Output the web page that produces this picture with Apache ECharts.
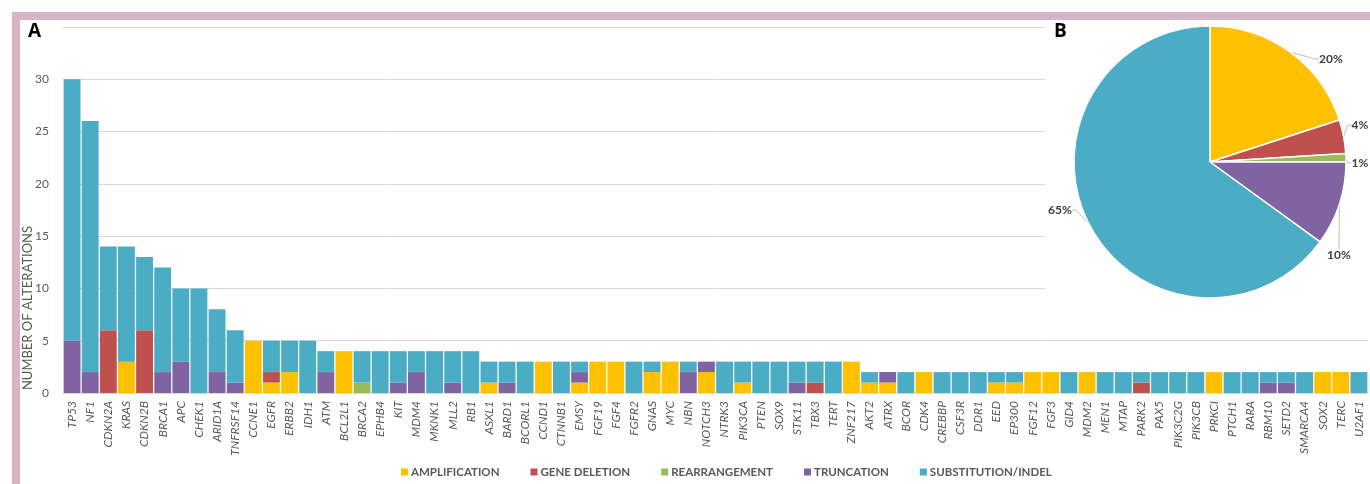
<!DOCTYPE html>
<html>
<head>
<meta charset="utf-8">
<script src="https://cdn.jsdelivr.net/npm/echarts@6/dist/echarts.min.js"></script>
<style>
html,body{margin:0;padding:0;background:#fff;}
#c{width:1370px;height:484px;}
</style>
</head>
<body>
<div id="c"></div>
<script>
const categories = ['TP53','NF1','CDKN2A','KRAS','CDKN2B','BRCA1','APC','CHEK1','ARID1A','TNFRSF14','CCNE1','EGFR','ERBB2','IDH1','ATM','BCL2L1','BRCA2','EPHB4','KIT','MDM4','MKNK1','MLL2','RB1','ASXL1','BARD1','BCORL1','CCND1','CTNNB1','EMSY','FGF19','FGF4','FGFR2','GNAS','MYC','NBN','NOTCH3','NTRK3','PIK3CA','PTEN','SOX9','STK11','TBX3','TERT','ZNF217','AKT2','ATRX','BCOR','CDK4','CREBBP','CSF3R','DDR1','EED','EP300','FGF12','FGF3','GID4','MDM2','MEN1','MTAP','PARK2','PAX5','PIK3C2G','PIK3CB','PRKCI','PTCH1','RARA','RBM10','SETD2','SMARCA4','SOX2','TERC','U2AF1'];

const amplification = [0,0,0,3,0,0,0,0,0,0, 5,1,2,0,0,4,0,0,0,0, 0,0,0,1,0,0,3,0,1,3, 3,0,2,3,0,2,0,1,0,0, 0,0,0,3,1,1,0,2,0,0, 0,1,1,2,2,0,2,0,0,0, 0,0,0,2,0,0,0,0,0,2,2,0];
const geneDeletion = [0,0,6,0,6,0,0,0,0,0, 0,1,0,0,0,0,0,0,0,0, 0,0,0,0,0,0,0,0,0,0, 0,0,0,0,0,0,0,0,0,0, 0,1,0,0,0,0,0,0,0,0, 0,0,0,0,0,0,0,0,0,1, 0,0,0,0,0,0,0,0,0,0,0,0];
const rearrangement = [0,0,0,0,0,0,0,0,0,0, 0,0,0,0,0,0,1,0,0,0, 0,0,0,0,0,0,0,0,0,0, 0,0,0,0,0,0,0,0,0,0, 0,0,0,0,0,0,0,0,0,0, 0,0,0,0,0,0,0,0,0,0, 0,0,0,0,0,0,0,0,0,0,0,0];
const truncation = [5,2,0,0,0,2,3,0,2,1, 0,0,0,0,2,0,0,0,1,2, 0,1,0,0,1,0,0,0,1,0, 0,0,0,0,2,1,0,0,0,0, 1,0,0,0,0,1,0,0,0,0, 0,0,0,0,0,0,0,0,0,0, 0,0,0,0,0,0,1,1,0,0,0,0];
const substitution = [25,24,8,11,7,10,7,10,6,5, 0,3,3,5,2,0,3,4,3,2, 4,3,4,2,2,3,0,3,1,0, 0,3,1,0,1,0,3,2,3,3, 2,2,3,0,1,0,2,0,2,2, 2,1,1,0,0,2,0,2,2,1, 2,2,2,0,2,2,1,1,2,0,0,2];

const seriesNames = ['AMPLIFICATION','GENE DELETION','REARRANGEMENT','TRUNCATION','SUBSTITUTION/INDEL'];
const colors = ['#FFC000','#C0504D','#9BBB59','#8064A2','#4BACC6'];
const piePercents = [20,4,1,10,65];
const yTicks = [0,5,10,15,20,25,30];

const font = 'Lato, "Open Sans", sans-serif';
const grey = '#595959';

// pie label placement (layout only)
const pieLabelPos = [[1331,59],[1360,125],[1360,163],[1339,255],[1060,210]];

const chart = echarts.init(document.getElementById('c'), null, {renderer:'canvas'});
const barData = [amplification, geneDeletion, rearrangement, truncation, substitution];

const barSeries = seriesNames.map((n,i)=>({
  name:n, type:'bar', stack:'total', data:barData[i],
  itemStyle:{color:colors[i]}, barCategoryGap:'7%', z:2
}));

chart.setOption({
  animation:false,
  backgroundColor:'#fff',
  color:colors,
  textStyle:{fontFamily:font},
  grid:{left:63,right:2,top:27,bottom:91,containLabel:false},
  legend:{
    data:seriesNames, bottom:1, left:396, itemWidth:7, itemHeight:7, itemGap:31, icon:'rect',
    textStyle:{color:grey,fontSize:11.5,fontWeight:'bold',fontFamily:font, padding:[0,0,0,-2]}
  },
  xAxis:{
    type:'category', data:categories,
    axisLine:{show:true,lineStyle:{color:'#d9d9d9'}},
    axisTick:{show:false},
    axisLabel:{rotate:90,interval:0,fontStyle:'italic',fontSize:12,color:grey,margin:8,fontFamily:font}
  },
  yAxis:{
    type:'value', min:0, max:35, interval:5,
    axisLine:{show:false}, axisTick:{show:false},
    splitLine:{lineStyle:{color:'#d9d9d9'}},
    axisLabel:{color:grey,fontSize:12,margin:14,fontFamily:font,
      formatter:v=> yTicks.indexOf(v)>=0 ? String(v) : ''}
  },
  graphic:[
    {type:'rect', z:5, silent:true, shape:{x:1045,y:20,width:325,height:290}, style:{fill:'#fff'}},
    {type:'rect', z:20, silent:true, shape:{x:12,y:12,width:1358,height:8}, style:{fill:'#D9B3C6'}},
    {type:'rect', z:20, silent:true, shape:{x:12,y:12,width:8,height:472}, style:{fill:'#D9B3C6'}},
    {type:'text', z:20, left:28, top:22, style:{text:'A',fontSize:19,fontWeight:'bold',fill:'#000',fontFamily:'"Open Sans", sans-serif'}},
    {type:'text', z:20, left:1054, top:22, style:{text:'B',fontSize:19,fontWeight:'bold',fill:'#000',fontFamily:'"Open Sans", sans-serif'}},
    {type:'text', z:20, x:28, y:308, rotation:Math.PI/2,
      style:{text:'NUMBER OF ALTERATIONS',fontSize:13,fill:grey,fontFamily:font,textAlign:'center',textVerticalAlign:'middle'}}
  ],
  series: barSeries.concat([{
    type:'pie', z:10, center:[1210,162], radius:136, startAngle:90, clockwise:true,
    legendHoverLink:false,
    data: seriesNames.map((n,i)=>({name:n, value:piePercents[i], itemStyle:{color:colors[i]}})),
    itemStyle:{borderColor:'#fff',borderWidth:1.5},
    label:{show:true,formatter:'{d}%',color:'#404040',fontSize:12,fontWeight:'bold',fontFamily:font,
      overflow:'none', width:40, alignTo:'none'},
    labelLine:{show:true,length:4,length2:4,lineStyle:{color:'#bfbfbf'}},
    labelLayout:function(p){
      const q = pieLabelPos[p.dataIndex];
      return {x:q[0], y:q[1], align:'center', verticalAlign:'middle'};
    }
  }])
});
</script>
</body>
</html>
